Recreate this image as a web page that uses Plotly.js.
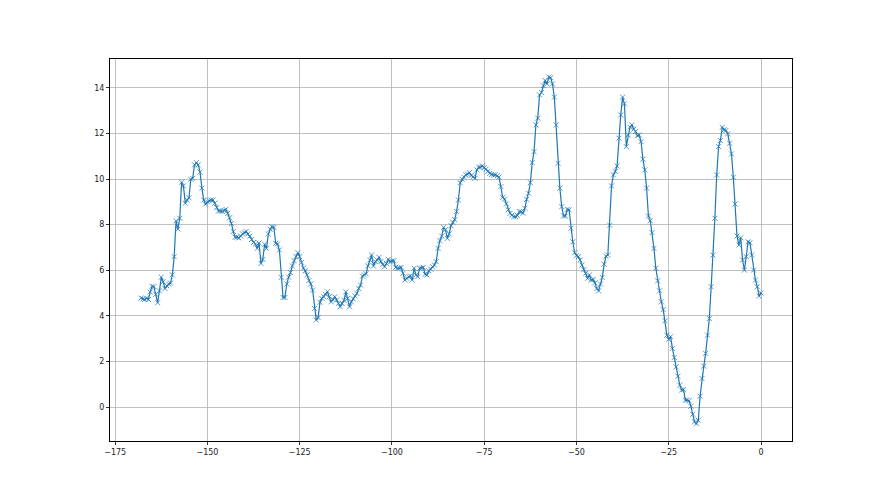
<!DOCTYPE html>
<html>
<head>
<meta charset="utf-8">
<script src="https://cdn.plot.ly/plotly-3.0.1.min.js"></script>
<style>html,body{margin:0;padding:0;background:#fff;}#chart{width:880px;height:495px;}</style>
</head>
<body>
<div id="chart"></div>
<script>
// x positions: regular half-unit steps from -168 to 0
const xStart = -168;
const xStep = 0.5;
const yValues = [
  4.78,4.75,4.72,4.78,4.72,5.05,5.3,5.28,4.95,4.58,
  5.1,5.7,5.5,5.2,5.32,5.4,5.44,5.8,6.6,8.17,
  7.8,8.28,9.86,9.7,8.94,9.08,9.18,9.99,10.03,10.62,
  10.72,10.62,10.3,9.6,9.08,8.9,9.0,9.05,9.08,9.08,
  8.94,8.75,8.6,8.6,8.58,8.62,8.67,8.5,8.3,8.05,
  7.7,7.45,7.45,7.42,7.5,7.6,7.65,7.7,7.6,7.5,
  7.35,7.22,7.15,6.96,7.2,6.3,6.48,7.14,6.96,7.59,
  7.8,7.91,7.88,7.18,7.15,6.89,5.69,4.81,4.81,5.4,
  5.7,5.9,6.19,6.42,6.6,6.77,6.6,6.35,6.1,5.98,
  5.8,5.55,5.4,5.13,4.33,3.82,3.93,4.6,4.77,4.84,
  4.95,5.06,4.84,4.62,4.72,4.84,4.7,4.55,4.4,4.55,
  4.69,5.06,4.77,4.4,4.62,4.75,4.88,4.99,5.2,5.35,
  5.75,5.8,5.85,6.2,6.45,6.67,6.19,6.38,6.45,6.57,
  6.38,6.25,6.16,6.3,6.48,6.38,6.4,6.42,6.13,6.09,
  6.1,6.13,5.87,5.57,5.65,5.72,5.75,5.57,6.09,5.8,
  5.72,6.09,6.1,6.13,5.83,5.8,5.98,6.05,6.16,6.23,
  6.38,6.96,7.3,7.5,7.88,7.78,7.4,7.6,7.95,8.1,
  8.22,8.57,9.08,9.84,9.99,10.08,10.18,10.22,10.28,10.16,
  10.1,10.03,10.4,10.52,10.52,10.57,10.5,10.43,10.33,10.25,
  10.2,10.18,10.18,10.14,10.08,9.67,9.2,9.12,8.91,8.65,
  8.5,8.42,8.35,8.35,8.4,8.57,8.57,8.5,8.72,9.11,
  9.38,9.84,10.72,11.2,12.37,12.67,13.69,13.79,14.09,14.32,
  14.17,14.47,14.44,14.17,13.59,12.37,10.69,9.6,8.79,8.38,
  8.38,8.67,8.65,7.84,7.25,6.77,6.65,6.6,6.45,6.23,
  6.03,5.87,5.65,5.8,5.57,5.6,5.45,5.2,5.1,5.4,
  5.69,6.27,6.62,6.67,7.98,9.7,10.18,10.33,10.57,11.79,
  12.81,13.59,13.3,11.42,11.93,12.27,12.37,12.18,12.08,11.9,
  11.93,11.64,10.87,10.4,9.6,8.38,8.17,7.65,6.96,6.09,
  5.54,5.1,4.62,4.28,3.79,3.16,2.97,3.09,2.58,2.18,
  1.77,1.36,0.97,0.75,0.77,0.31,0.31,0.28,0.04,-0.31,
  -0.64,-0.72,-0.57,0.48,1.26,1.8,2.36,3.16,3.89,5.28,
  6.67,8.28,10.18,11.42,11.69,12.27,12.16,12.13,11.98,11.57,
  11.1,10.08,8.91,7.5,7.11,7.43,6.45,6.01,6.6,7.25,
  7.21,6.67,6.01,5.57,5.28,4.87,5.01
];
const xTickVals = [-175, -150, -125, -100, -75, -50, -25, 0];
const yTickVals = [0, 2, 4, 6, 8, 10, 12, 14];

const xValues = yValues.map((_, i) => xStart + i * xStep);

const trace = {
  x: xValues,
  y: yValues,
  type: 'scatter',
  mode: 'lines+markers',
  line: {color: '#1f77b4', width: 1.2},
  marker: {symbol: 'x-thin', size: 5, line: {color: 'rgba(31,119,180,0.75)', width: 1}, color: 'rgba(31,119,180,0.75)'},
  hoverinfo: 'skip'
};

const axisCommon = {
  showgrid: true,
  gridcolor: '#b0b0b0',
  gridwidth: 0.8,
  zeroline: false,
  showline: true,
  linecolor: '#000',
  linewidth: 1,
  mirror: true,
  ticks: 'outside',
  ticklen: 3,
  tickwidth: 0.8,
  tickcolor: '#000',
  tickfont: {family: 'DejaVu Sans, sans-serif', size: 8, color: '#222'}
};

const layout = {
  width: 880,
  height: 495,
  margin: {l: 110, r: 88, t: 59, b: 54},
  paper_bgcolor: '#fff',
  plot_bgcolor: '#fff',
  showlegend: false,
  xaxis: Object.assign({}, axisCommon, {range: [-176.4, 8.4], tickvals: xTickVals}),
  yaxis: Object.assign({}, axisCommon, {range: [-1.48, 15.26], tickvals: yTickVals})
};

Plotly.newPlot('chart', [trace], layout, {staticPlot: true, displayModeBar: false});
</script>
</body>
</html>
